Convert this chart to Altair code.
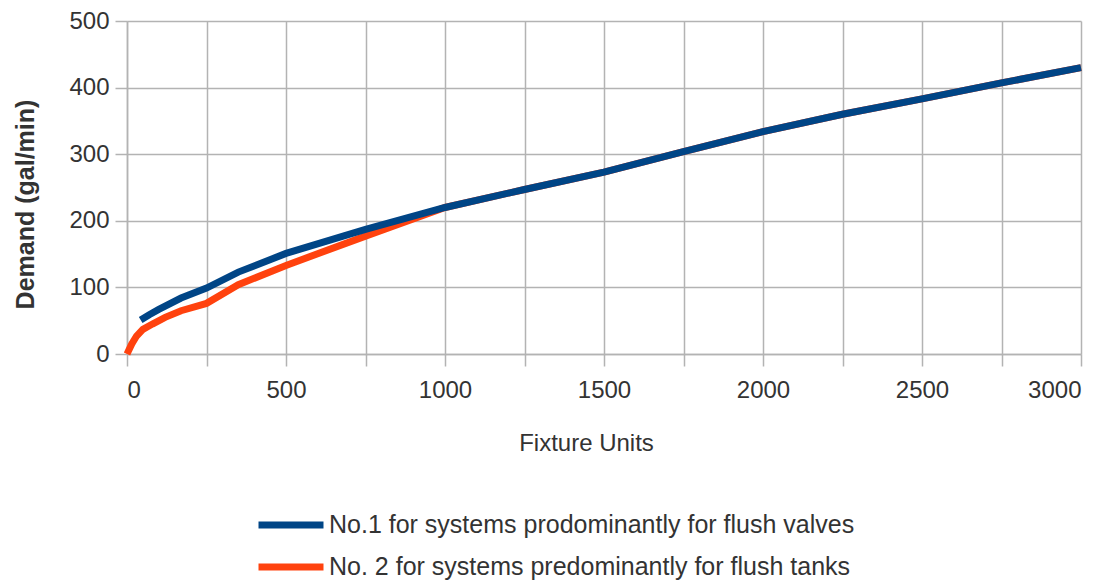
import altair as alt
import pandas as pd

s1 = "No.1 for systems prodominantly for flush valves"
s2 = "No. 2 for systems predominantly for flush tanks"

fu_valves = [43, 70, 100, 170, 250, 350, 500, 750, 1000, 1250, 1500, 1750, 2000, 2250, 2500, 2750, 3000]
gpm_valves = [51, 59, 67, 84, 99, 123, 151, 187, 220, 247, 273, 304, 334, 360, 383, 407, 430]

fu_tanks = [0, 15, 30, 50, 80, 120, 170, 250, 350, 500, 750, 1000, 1250, 1500, 1750, 2000, 2250, 2500, 2750, 3000]
gpm_tanks = [0, 15, 27, 37, 45, 55, 65, 76, 104, 133, 177, 220, 247, 273, 304, 334, 360, 383, 407, 430]

df = pd.concat([
    pd.DataFrame({"fu": fu_valves, "gpm": gpm_valves, "series": s1}),
    pd.DataFrame({"fu": fu_tanks, "gpm": gpm_tanks, "series": s2}),
])

x_ticks = list(range(0, 3001, 250))
y_ticks = list(range(0, 501, 100))

color = alt.Color(
    "series:N",
    scale=alt.Scale(domain=[s1, s2], range=["#004586", "#ff420e"]),
    legend=alt.Legend(
        title=None, orient="none", legendX=144, legendY=484,
        symbolType="M-2,0H2", symbolSize=1056, symbolStrokeWidth=7,
        symbolFillColor="transparent",
        labelFontSize=25, labelFont="Liberation Sans", labelColor="#333333",
        labelOffset=18, rowPadding=8, padding=0, labelLimit=900,
    ),
)

x = alt.X("fu:Q", scale=alt.Scale(domain=[0, 3000], nice=False),
          axis=alt.Axis(values=x_ticks, title="Fixture Units", format="d",
                        labelExpr="datum.value % 500 == 0 ? datum.label : ''",
                        titlePadding=29, titleFontWeight="normal", titleFontSize=24,
                        titleX=459, labelPadding=12))
y = alt.Y("gpm:Q", scale=alt.Scale(domain=[0, 500], nice=False),
          axis=alt.Axis(values=y_ticks, title="Demand (gal/min)", format="d",
                        titleFontWeight="bold", titleFontSize=25, titlePadding=30,
                        titleY=183))

base = alt.Chart(df).mark_line(strokeWidth=7).encode(x=x, y=y, color=color)
orange = base.transform_filter(alt.datum.series == s2)
blue = base.transform_filter(alt.datum.series == s1)

chart = alt.layer(orange, blue).properties(
    width=954, height=333,
    autosize=alt.AutoSizeParams(type="none"),
    padding={"left": 119, "top": 13, "right": 25, "bottom": 232},
).configure_view(stroke=None).configure_axis(
    labelFont="Liberation Sans", titleFont="Liberation Sans",
    labelFontSize=24, labelColor="#333333", titleColor="#333333",
    gridColor="#b3b3b3", gridWidth=1.5, domainColor="#b3b3b3", domainWidth=1.5,
    tickColor="#b3b3b3", tickSize=12, tickWidth=1.5, labelPadding=6,
)

chart.save("out.html", embed_options={"renderer": "svg", "actions": False})
